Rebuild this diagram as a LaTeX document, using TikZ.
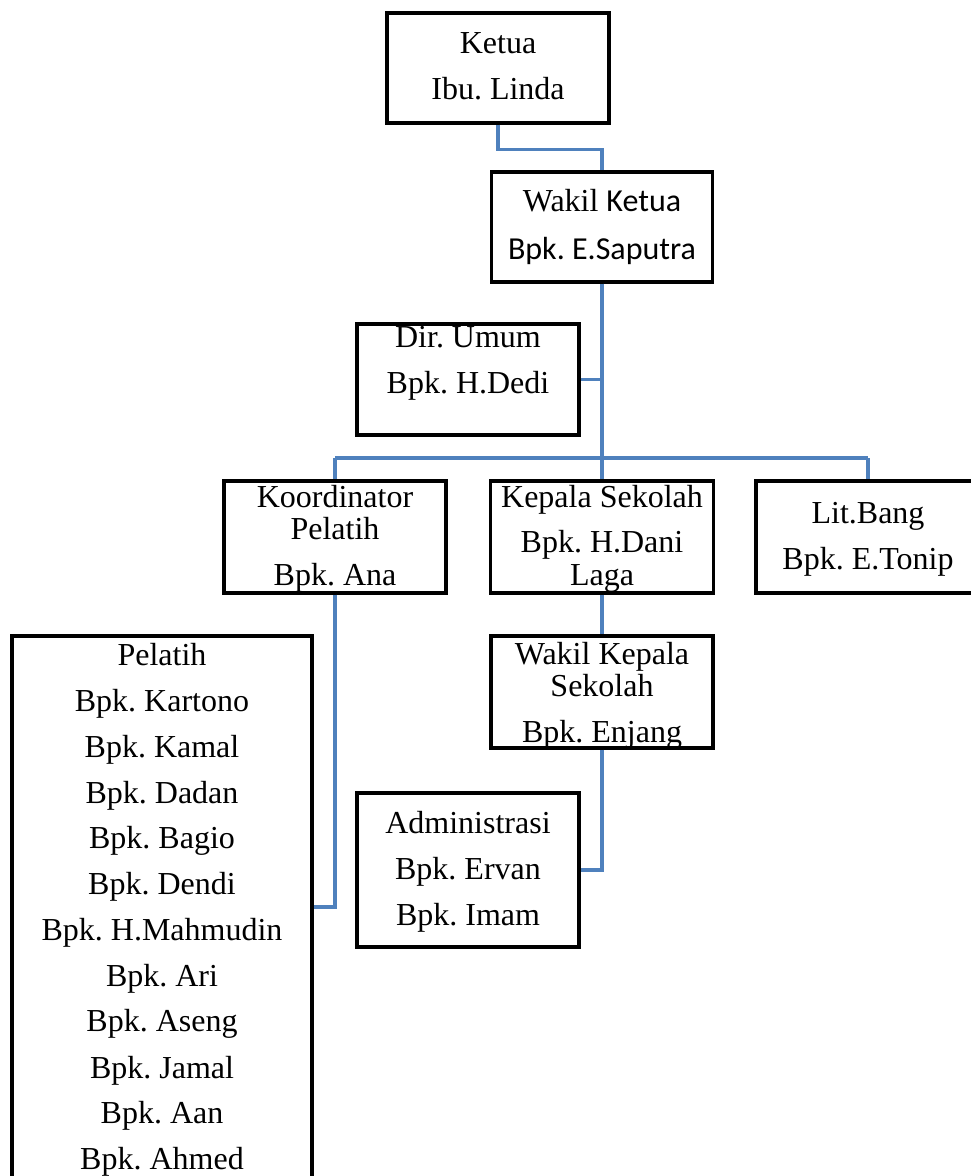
\documentclass[tikz,border=0pt]{standalone}
\usepackage{fontspec}
\setmainfont{Liberation Serif}
\newfontfamily\calib{Carlito}
\definecolor{connblue}{HTML}{4F81BD}
\tikzset{
  box/.style={draw=black, line width=2.6pt, inner sep=0pt, fill=white},
  conn/.style={draw=connblue, line width=2.5pt},
  txt/.style={anchor=base, inner sep=0pt, font=\fontsize{24}{28}\selectfont}
}
\begin{document}
\frenchspacing
\begin{tikzpicture}[x=0.75pt,y=-0.75pt]
\useasboundingbox (0,0) rectangle (970,1176);
% boxes
\node[box, minimum width=222*0.75pt, minimum height=110*0.75pt] (ketua) at (498,68) {};
\node[box, minimum width=221*0.75pt, minimum height=110*0.75pt] (wakil) at (602,227) {};
\node[box, minimum width=222*0.75pt, minimum height=111*0.75pt] (dir) at (468,379.5) {};
\node[box, minimum width=222*0.75pt, minimum height=112*0.75pt] (koord) at (335,537) {};
\node[box, minimum width=223*0.75pt, minimum height=112*0.75pt] (kepala) at (602,537) {};
\node[box, minimum width=224*0.75pt, minimum height=112*0.75pt] (litbang) at (868,537) {};
\node[box, minimum width=222*0.75pt, minimum height=112*0.75pt] (wakilkep) at (602,692) {};
\node[box, minimum width=222*0.75pt, minimum height=154*0.75pt] (admin) at (468,870) {};
\node[box, minimum width=300*0.75pt, minimum height=564*0.75pt] (pelatih) at (162,918) {};
% connectors
\coordinate (bus) at (602,458);
\coordinate (p1) at (335,907);
\draw[conn] (ketua.south) -- ++(0,25) -| (wakil.north);
\draw[conn] (wakil.south) -- (bus);
\draw[conn] (dir.east) -- (dir.east -| bus);
\draw[conn] (bus -| koord.north) -- (bus -| litbang.north);
\draw[conn] (bus -| koord.north) -- (koord.north);
\draw[conn] (bus) -- (kepala.north);
\draw[conn] (bus -| litbang.north) -- (litbang.north);
\draw[conn] (koord.south) -- (p1) -- (p1 -| pelatih.east);
\draw[conn] (kepala.south) -- (wakilkep.north);
\draw[conn] (wakilkep.south) |- (admin.east);
% texts
\node[txt] (t1) at (498,54) {Ketua};
\node[txt] (t2) at (498,100) {Ibu. Linda};
\node[txt] (t3) at (602,212) {Wakil {\calib Ketua}};
\node[txt, font=\calib\fontsize{24}{28}\selectfont] (t4) at (602,260) {Bpk. E.Saputra};
\node[txt] (t5) at (468,348) {Dir. Umum};
\node[txt] (t6) at (468,393) {Bpk. H.Dedi};
\node[txt] (t7) at (335,507) {Koordinator};
\node[txt] (t8) at (335,539) {Pelatih};
\node[txt] (t9) at (335,585) {Bpk. Ana};
\node[txt] (t10) at (602,507) {Kepala Sekolah};
\node[txt] (t11) at (602,552) {Bpk. H.Dani};
\node[txt] (t12) at (602,585) {Laga};
\node[txt] (t13) at (868,523) {Lit.Bang};
\node[txt] (t14) at (868,569) {Bpk. E.Tonip};
\node[txt] (t15) at (602,664) {Wakil Kepala};
\node[txt] (t16) at (602,696) {Sekolah};
\node[txt] (t17) at (602,742) {Bpk. Enjang};
\node[txt] (t18) at (468,833) {Administrasi};
\node[txt] (t19) at (468,879) {Bpk. Ervan};
\node[txt] (t20) at (468,925) {Bpk. Imam};
\node[txt] (p0) at (162,665) {Pelatih};
\node[txt] (p1t) at (162,711) {Bpk. Kartono};
\node[txt] (p2) at (162,757) {Bpk. Kamal};
\node[txt] (p3) at (162,803) {Bpk. Dadan};
\node[txt] (p4) at (162,848) {Bpk. Bagio};
\node[txt] (p5) at (162,894) {Bpk. Dendi};
\node[txt] (p6) at (162,940) {Bpk. H.Mahmudin};
\node[txt] (p7) at (162,986) {Bpk. Ari};
\node[txt] (p8) at (162,1031) {Bpk. Aseng};
\node[txt] (p9) at (162,1078) {Bpk. Jamal};
\node[txt] (p10) at (162,1123) {Bpk. Aan};
\node[txt] (p11) at (162,1169) {Bpk. Ahmed};
\end{tikzpicture}
\end{document}
